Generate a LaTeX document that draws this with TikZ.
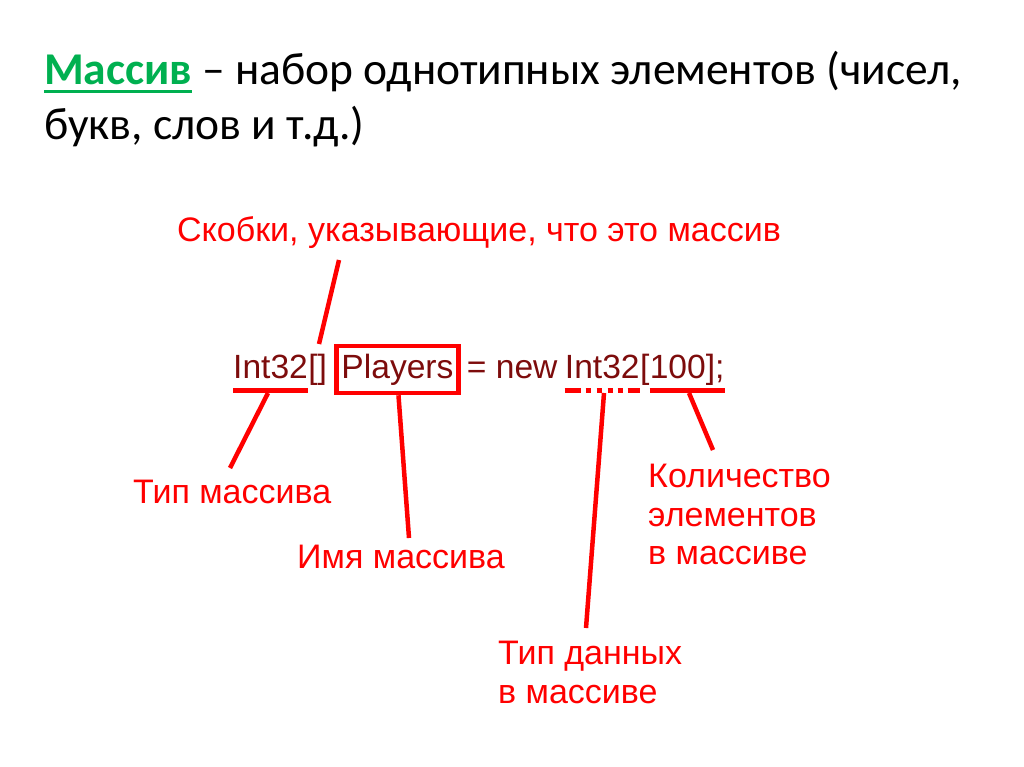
\documentclass[tikz,border=0pt]{standalone}
\usepackage{fontspec}
\setmainfont{Liberation Sans}
\newfontfamily\titlefont{Carlito}
\usetikzlibrary{positioning}
\definecolor{codered}{RGB}{125,12,12}
\definecolor{titlegreen}{RGB}{0,176,80}
\tikzset{
  lbl/.style={text=red, font=\fontsize{34}{38.5}\selectfont, inner sep=0pt, align=left},
  code/.style={text=codered, font=\fontsize{33.6}{38}\selectfont, inner sep=0pt, anchor=base west},
  ttl/.style={font=\titlefont\fontsize{45.5}{50}\selectfont, inner sep=0pt, anchor=base west},
  hl/.style={red, line width=4.5pt},
}
\begin{document}
\begin{tikzpicture}[x=1pt, y=-1pt, line cap=butt]
\useasboundingbox (0,0) rectangle (1024,767);

% title
\node[ttl, text=titlegreen, font=\titlefont\bfseries\fontsize{45.5}{50}\selectfont] (defn) at (44,85) {Массив};
\node[ttl] (ttlA) at ([xshift=10pt]defn.base east) {– набор однотипных элементов (чисел,};
\node[ttl] (ttlB) at (44,140) {букв, слов и т.д.)};
\draw[titlegreen, line width=3pt] ([yshift=-7pt]defn.base west) -- ([yshift=-7pt]defn.base east);

% code line
\node[code] (typ) at (233,378) {Int32};
\node[code] (brk) at (typ.base east) {[]};
\node[code, draw=red, line width=4.5pt, inner xsep=5pt, text height=32pt, text depth=15pt] (pl) at ([xshift=7pt]brk.base east) {Players};
\node[code] (eq) at ([xshift=6pt]pl.base east) {= new};
\node[code] (typB) at ([xshift=7pt]eq.base east) {Int32};
\node[code] (lb) at (typB.base east) {[};
\node[code] (num) at (lb.base east) {100];};

\coordinate (typU) at ([yshift=-12.5pt]typ.base east);
\draw[hl] ([yshift=-12.5pt]typ.base west) -- (typU);
\draw[hl, dash pattern=on 16pt off 5pt on 5pt off 6pt on 5pt off 6pt on 5pt off 5pt on 5pt off 5pt on 16pt]
  ([yshift=-12.5pt]typB.base west) -- ([yshift=-12.5pt]typB.base east);
\draw[hl] ([yshift=-12.5pt]num.base west) -- ([yshift=-12.5pt]num.base east);

% labels
\node[lbl] (brkLbl) at (479,233) {Скобки, указывающие, что это массив};
\node[lbl, anchor=base west] (typLbl) at (133,503) {Тип массива};
\node[lbl, anchor=base west] (plLbl) at (297,568) {Имя массива};
\node[lbl, anchor=north west] (dataLbl) at (498,641) {Тип данных\\в массиве};
\node[lbl, anchor=north west] (cntLbl) at (648,464) {Количество\\элементов\\в массиве};

% connectors
\coordinate (brkA) at (339,260);
\coordinate (brkB) at (319,344);
\coordinate (typA) at (268,393);
\coordinate (typB2) at (230,468);
\coordinate (plB) at (409,538);
\coordinate (dataA) at (604,393);
\coordinate (dataB) at (586,628);
\coordinate (cntA) at (689,393);
\coordinate (cntB) at (713,450);
\draw[hl] (brkA) -- (brkB);
\draw[hl] (typA) -- (typB2);
\draw[hl] ([xshift=1pt]pl.south) -- (plB);
\draw[hl] (dataA) -- (dataB);
\draw[hl] (cntA) -- (cntB);
\end{tikzpicture}
\end{document}
